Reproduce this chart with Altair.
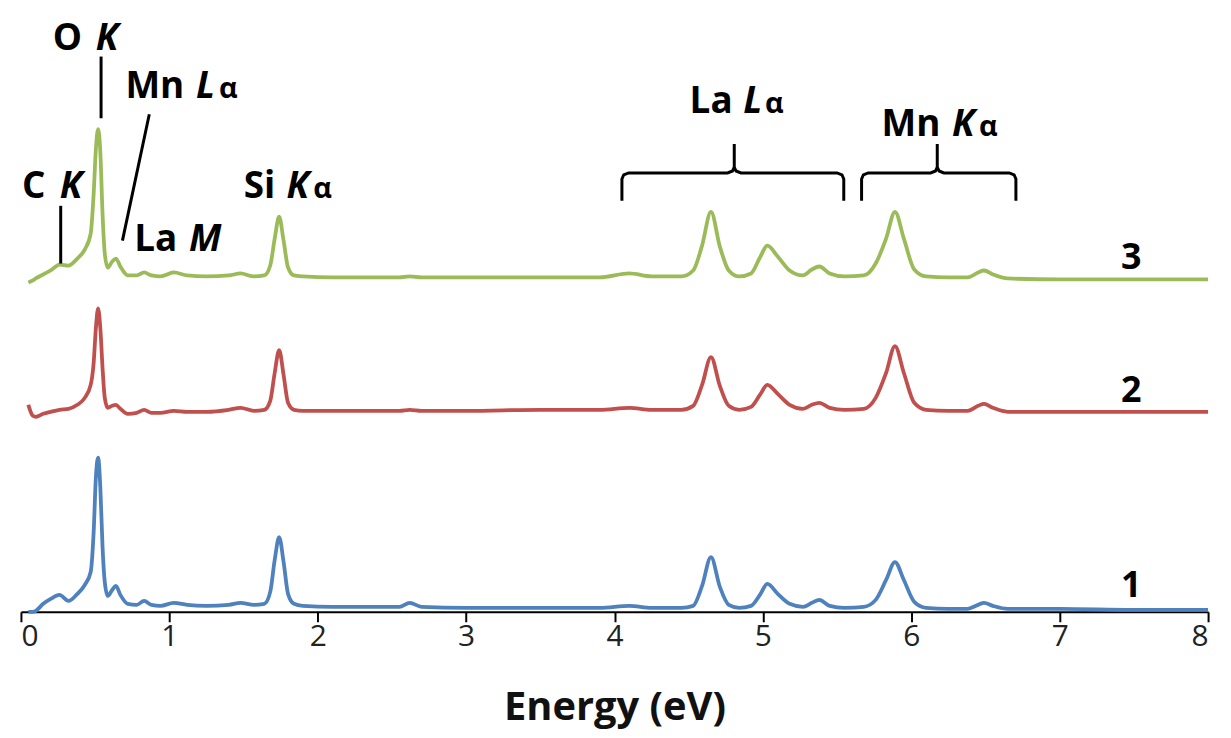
import altair as alt
import pandas as pd

# Energy grid (eV) and the three offset spectra (arbitrary units)
energy = [0.05, 0.08, 0.10, 0.15, 0.20, 0.26, 0.32, 0.38, 0.43, 0.47, 0.49, 0.505, 0.52, 0.535,
          0.55, 0.565, 0.585, 0.615, 0.64, 0.67, 0.72, 0.78, 0.83, 0.88, 0.94, 1.03, 1.12, 1.25,
          1.40, 1.48, 1.57, 1.64, 1.68, 1.71, 1.74, 1.77, 1.80, 1.84, 1.90, 2.10, 2.40, 2.55,
          2.62, 2.70, 3.00, 3.50, 3.90, 4.10, 4.25, 4.45, 4.53, 4.59, 4.65, 4.71, 4.77, 4.84,
          4.92, 4.98, 5.03, 5.10, 5.18, 5.27, 5.33, 5.38, 5.45, 5.55, 5.68, 5.76, 5.83, 5.89,
          5.95, 6.02, 6.10, 6.25, 6.38, 6.45, 6.49, 6.55, 6.65, 7.00, 7.50, 8.00]

spec1 = [0, 0, 1, 8, 13, 17, 11, 18, 27, 40, 80, 135, 155, 125, 65, 30, 16, 22, 26, 17, 8, 7,
         11, 7, 6, 9, 7, 6, 7, 9, 7, 8, 20, 52, 75, 50, 18, 8, 6, 5, 5, 5, 9, 5, 4, 4, 4, 6, 4,
         4, 6, 26, 55, 25, 7, 4, 6, 17, 28, 18, 8, 5, 9, 12, 6, 4, 5, 12, 32, 50, 32, 10, 4, 3,
         3, 7, 9, 6, 3, 3, 2, 2]

spec2 = [208, 197, 196, 199, 201, 203, 204, 208, 215, 228, 250, 285, 305, 285, 245, 215, 205,
         207, 208, 204, 199, 200, 203, 200, 200, 202, 201, 201, 203, 205, 202, 203, 212, 240,
         263, 238, 210, 203, 202, 202, 202, 202, 203, 202, 202, 203, 203, 205, 203, 203, 207,
         228, 256, 227, 207, 203, 206, 218, 228, 219, 208, 204, 208, 210, 205, 203, 204, 215,
         240, 267, 240, 210, 203, 202, 202, 207, 209, 205, 201, 201, 201, 201]

spec3 = [331, 333, 335, 339, 343, 349, 348, 355, 364, 380, 420, 465, 485, 462, 400, 360, 346,
         352, 355, 347, 338, 338, 341, 338, 337, 341, 338, 337, 338, 340, 337, 338, 348, 375,
         397, 373, 346, 338, 337, 336, 336, 336, 337, 336, 336, 336, 336, 340, 337, 337, 343,
         368, 402, 367, 343, 337, 340, 356, 368, 357, 343, 338, 344, 347, 340, 337, 338, 350,
         375, 402, 375, 344, 337, 336, 336, 341, 343, 339, 335, 334, 334, 334]

series_names = ["1", "2", "3"]
series_colors = ["#4F81BD", "#C0504D", "#9BBB59"]

# Annotation text pieces
bold_text = ["O", "Mn", "C", "La", "Si", "La", "Mn"]
bold_x = [0.215, 0.704, 0.007, 0.764, 1.502, 4.506, 5.800]
bold_y = [565, 516, 416, 363, 416, 501, 478]

italic_text = ["K", "L", "K", "M", "K", "L", "K"]
italic_x = [0.505, 1.180, 0.261, 1.133, 1.790, 4.868, 6.275]
italic_y = [565, 516, 416, 363, 416, 501, 478]

alpha_text = ["α", "α", "α", "α"]
alpha_x = [1.334, 1.970, 5.015, 6.456]
alpha_y = [516, 416, 501, 478]

num_text = ["3", "2", "1"]
num_x = [7.482, 7.482, 7.482]
num_y = [345, 211, 15]

# Pointer lines
ptr_x1 = [0.540, 0.268, 0.865]
ptr_y1 = [558, 408, 500]
ptr_x2 = [0.540, 0.268, 0.684]
ptr_y2 = [496, 350, 373]

# Curly brackets: left end, centre, right end (eV); base, bar and tip levels
br_left = [4.050, 5.665]
br_mid = [4.807, 6.175]
br_right = [5.545, 6.705]
br_base, br_bar, br_tip = 413, 441, 470

# ---- tables ----
rows = []
for name, vals in zip(series_names, [spec1, spec2, spec3]):
    for e, v in zip(energy, vals):
        rows.append({"E": e, "v": v, "s": name})
spec_df = pd.DataFrame(rows)

def tdf(t, x, y):
    return pd.DataFrame({"t": t, "E": x, "v": y})

ptr_df = pd.DataFrame({"E": ptr_x1, "v": ptr_y1, "E2": ptr_x2, "v2": ptr_y2})

br_rows = []
for i, (l, m, r) in enumerate(zip(br_left, br_mid, br_right)):
    cx, cy = 0.045, 6
    pts = [(l, br_base), (l, br_bar - cy), (l + 0.012, br_bar - 2), (l + cx, br_bar),
           (m - cx, br_bar), (m - 0.012, br_bar + 2), (m, br_bar + cy), (m, br_tip),
           (m, br_bar + cy), (m + 0.012, br_bar + 2), (m + cx, br_bar), (r - cx, br_bar),
           (r - 0.012, br_bar - 2), (r, br_bar - cy), (r, br_base)]
    for k, (px, py) in enumerate(pts):
        br_rows.append({"E": px, "v": py, "b": i, "k": k})
br_df = pd.DataFrame(br_rows)

FONT = "Open Sans"
xenc = alt.X("E:Q", scale=alt.Scale(domain=[0, 8], nice=False),
             axis=alt.Axis(values=list(range(0, 9)), title="Energy (eV)", format="d"))
yenc = alt.Y("v:Q", scale=alt.Scale(domain=[0, 600], nice=False), axis=None)

lines = alt.Chart(spec_df).mark_line(strokeWidth=3.8, interpolate="monotone").encode(
    x=xenc, y=yenc,
    color=alt.Color("s:N", scale=alt.Scale(domain=series_names, range=series_colors), legend=None),
)

ptrs = alt.Chart(ptr_df).mark_rule(color="black", strokeWidth=3).encode(
    x=xenc, y=yenc, x2="E2:Q", y2="v2:Q")

brackets = alt.Chart(br_df).mark_line(color="black", strokeWidth=3, interpolate="linear").encode(
    x=xenc, y=yenc, detail="b:N", order="k:Q")

t_bold = alt.Chart(tdf(bold_text, bold_x, bold_y)).mark_text(
    font=FONT, fontSize=37, fontWeight="bold", align="left", baseline="alphabetic", color="black"
).encode(x=xenc, y=yenc, text="t:N")

t_ital = alt.Chart(tdf(italic_text, italic_x, italic_y)).mark_text(
    font=FONT, fontSize=37, fontWeight="bold", fontStyle="italic", align="left",
    baseline="alphabetic", color="black"
).encode(x=xenc, y=yenc, text="t:N")

t_alpha = alt.Chart(tdf(alpha_text, alpha_x, alpha_y)).mark_text(
    font=FONT, fontSize=29, fontWeight="bold", align="left", baseline="alphabetic", color="black"
).encode(x=xenc, y=yenc, text="t:N")

t_num = alt.Chart(tdf(num_text, num_x, num_y)).mark_text(
    font=FONT, fontSize=36, fontWeight="bold", align="center", baseline="alphabetic", color="black"
).encode(x=xenc, y=yenc, text="t:N")

chart = alt.layer(lines, ptrs, brackets, t_bold, t_ital, t_alpha, t_num).properties(
    width=1193, height=600,
    autosize=alt.AutoSizeParams(type="none"),
    padding={"left": 13, "top": 5, "right": 15, "bottom": 120},
).configure_view(stroke=None).configure_axis(
    grid=False, domainColor="black", domainWidth=2, tickColor="black", tickWidth=2, tickSize=10,
    labelFont=FONT, labelFontSize=30, labelColor="#222", labelPadding=0,
    titleFont=FONT, titleFontSize=40, titleFontWeight="bold", titleColor="#111", titlePadding=36,
)

chart.save("out.html", embed_options={"renderer": "svg", "actions": False})
